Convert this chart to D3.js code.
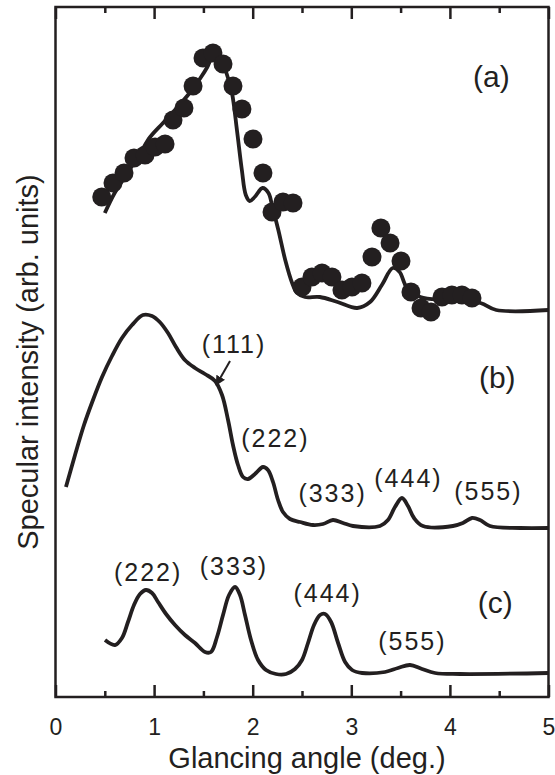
<!DOCTYPE html>
<html>
<head>
<meta charset="utf-8">
<script src="https://cdn.jsdelivr.net/npm/d3@7"></script>
<style>
  body { margin: 0; background: #fff; }
  svg text { fill: #231f20; }
</style>
</head>
<body>
<div id="chart"></div>
<script>
// glancing angle (deg.) vs specular intensity (arb. units, curves offset)
var curveA = [[0.50,48.4],[0.60,50.4],[0.73,52.4],[0.86,54.4],[0.96,56.0],[1.09,57.4],[1.23,58.9],[1.36,60.4],
  [1.47,61.9],[1.54,63.0],[1.60,64.2],[1.67,63.9],[1.74,62.2],[1.79,60.4],[1.84,56.7],[1.89,52.7],[1.93,50.2],
  [1.97,49.6],[2.02,50.0],[2.10,50.9],[2.16,50.4],[2.20,49.0],[2.26,46.7],[2.33,43.7],[2.40,41.4],[2.45,40.4],
  [2.53,40.0],[2.68,40.0],[2.86,39.5],[3.06,38.9],[3.19,39.5],[3.31,41.2],[3.42,42.9],[3.49,42.5],[3.56,41.0],
  [3.70,40.0],[3.97,39.7],[4.31,39.4],[4.47,38.7],[5.00,38.7]];

var dotsA = [[0.469,50.0],[0.583,51.4],[0.695,52.4],[0.796,53.9],[0.908,54.2],[1.009,55.0],[1.111,55.3],
  [1.192,57.7],[1.303,58.9],[1.395,61.1],[1.496,63.9],[1.597,64.4],[1.699,63.3],[1.80,61.1],[1.891,58.8],
  [2.003,55.8],[2.104,52.4],[2.196,48.5],[2.307,49.5],[2.409,49.4],[2.50,41.0],[2.601,42.0],[2.703,42.4],
  [2.804,42.0],[2.905,40.7],[3.007,41.0],[3.108,41.4],[3.21,44.0],[3.30,46.9],[3.393,45.4],[3.504,43.6],
  [3.605,40.5],[3.707,38.9],[3.808,38.5],[3.92,40.0],[4.02,40.2],[4.122,40.2],[4.224,39.9]];

var curveB = [[0.106,21.0],[0.198,24.2],[0.289,27.2],[0.380,29.7],[0.472,32.0],[0.573,34.1],[0.674,35.9],
  [0.776,37.2],[0.887,38.2],[0.979,38.1],[1.057,37.5],[1.141,36.4],[1.222,35.0],[1.312,33.7],[1.415,32.9],
  [1.516,32.3],[1.618,31.6],[1.689,30.2],[1.75,27.7],[1.80,25.2],[1.851,23.2],[1.902,22.0],[1.952,21.8],
  [2.023,22.3],[2.104,23.0],[2.155,22.7],[2.206,21.5],[2.257,19.7],[2.307,18.5],[2.378,17.8],[2.48,17.5],
  [2.611,17.2],[2.713,17.3],[2.814,17.7],[2.916,17.4],[3.017,17.1],[3.291,17.1],[3.372,17.7],[3.443,19.0],
  [3.514,19.9],[3.575,19.1],[3.636,17.9],[3.727,17.1],[4.031,17.1],[4.132,17.4],[4.224,17.9],[4.305,17.7],
  [4.406,17.1],[4.711,16.9],[5.00,16.9]];

var curveC = [[0.502,5.7],[0.603,5.2],[0.674,5.9],[0.735,7.5],[0.796,9.2],[0.857,10.3],[0.918,10.7],
  [0.979,10.4],[1.04,9.5],[1.121,8.3],[1.212,7.2],[1.313,6.2],[1.415,5.4],[1.516,4.5],[1.577,4.5],[1.638,6.0],
  [1.699,8.2],[1.76,10.2],[1.821,11.0],[1.871,10.2],[1.922,8.2],[1.983,5.7],[2.054,3.7],[2.135,2.7],
  [2.236,2.3],[2.338,2.3],[2.429,2.8],[2.50,3.7],[2.561,5.4],[2.622,7.2],[2.683,8.2],[2.734,8.3],[2.795,7.5],
  [2.866,5.4],[2.937,3.5],[3.008,2.7],[3.11,2.4],[3.342,2.5],[3.474,2.9],[3.595,3.2],[3.717,2.8],[3.849,2.4],
  [4.103,2.3],[5.00,2.4]];

// panel labels and reflection indices: [text, x, y(baseline)]
var panelLabels = [["(a)",4.42,61.0],["(b)",4.48,30.9],["(c)",4.46,8.4]];
var peakLabels = [["(111)",1.81,34.4],["(222)",2.23,25.0],["(333)",2.81,19.5],["(444)",3.58,21.0],["(555)",4.39,19.7],
  ["(222)",0.94,11.6],["(333)",1.81,12.2],["(444)",2.76,9.5],["(555)",3.62,4.7]];
var arrow111 = [[1.77,33.6],[1.63,31.2]];

var xTicks = [0,1,2,3,4,5];
var xMinor = [0.5,1.5,2.5,3.5,4.5];

var W = 555, H = 775;
var mLeft = 55.5, mRight = 548.5, mTop = 7, mBottom = 697;
var font = "Liberation Sans, Arial, sans-serif";
var narrow = "Liberation Sans Narrow, Arial Narrow, sans-serif";
var ink = "#231f20";

var svg = d3.select("#chart").append("svg").attr("width", W).attr("height", H);

var x = d3.scaleLinear().domain([0,5]).range([mLeft, mRight]);
var y = d3.scaleLinear().domain([0,69]).range([mBottom, mTop]);

// axes: ticks point inward
var gb = svg.append("g").attr("transform", "translate(0," + mBottom + ")")
  .call(d3.axisBottom(x).tickValues(xTicks).tickSize(-12).tickPadding(22).tickFormat(d3.format("d")));
svg.append("g").attr("transform", "translate(0," + mBottom + ")")
  .call(d3.axisBottom(x).tickValues(xMinor).tickSize(-6).tickFormat(""));
svg.append("g").attr("transform", "translate(0," + mTop + ")")
  .call(d3.axisTop(x).tickValues(xTicks).tickSize(-12).tickFormat(""));
svg.append("g").attr("transform", "translate(0," + mTop + ")")
  .call(d3.axisTop(x).tickValues(xMinor).tickSize(-6).tickFormat(""));
svg.selectAll(".domain").remove();
svg.selectAll(".tick line").attr("stroke", ink).attr("stroke-width", 2.5);
gb.selectAll(".tick text").style("font-family", narrow).style("font-size", "23px").style("fill", ink);

svg.append("rect").attr("x", mLeft).attr("y", mTop).attr("width", mRight - mLeft).attr("height", mBottom - mTop)
  .attr("fill", "none").attr("stroke", ink).attr("stroke-width", 2.5);

var line = d3.line().x(d => x(d[0])).y(d => y(d[1])).curve(d3.curveCatmullRom.alpha(0.5));

[curveA, curveB, curveC].forEach(function (c) {
  svg.append("path").datum(c).attr("d", line)
    .attr("fill", "none").attr("stroke", ink).attr("stroke-width", 3.8)
    .attr("stroke-linejoin", "round").attr("stroke-linecap", "butt");
});

svg.append("g").selectAll("circle").data(dotsA).enter().append("circle")
  .attr("cx", d => x(d[0])).attr("cy", d => y(d[1])).attr("r", 9.5).attr("fill", ink);

svg.append("g").selectAll("text").data(panelLabels).enter().append("text")
  .attr("x", d => x(d[1])).attr("y", d => y(d[2])).attr("text-anchor", "middle")
  .style("font-family", font).style("font-size", "30px").text(d => d[0]);

svg.append("g").selectAll("text").data(peakLabels).enter().append("text")
  .attr("x", d => x(d[1])).attr("y", d => y(d[2])).attr("text-anchor", "middle")
  .style("font-family", narrow).style("font-size", "25px")
  .style("letter-spacing", "2px").text(d => d[0]);

// arrow pointing at the (111) shoulder
svg.append("defs").append("marker").attr("id", "head").attr("viewBox", "0 0 10 10")
  .attr("refX", 9).attr("refY", 5).attr("markerWidth", 5).attr("markerHeight", 5).attr("orient", "auto")
  .append("path").attr("d", "M0,0L10,5L0,10Z").attr("fill", ink);
svg.append("path").datum(arrow111).attr("d", d3.line().x(d => x(d[0])).y(d => y(d[1])))
  .attr("stroke", ink).attr("stroke-width", 2).attr("marker-end", "url(#head)");

svg.append("text").attr("x", 307).attr("y", 768).attr("text-anchor", "middle")
  .style("font-family", font).style("font-size", "29px").text("Glancing angle (deg.)");

svg.append("text").attr("transform", "translate(38,362) rotate(-90)").attr("text-anchor", "middle")
  .style("font-family", font).style("font-size", "29px").text("Specular intensity (arb. units)");
</script>
</body>
</html>
